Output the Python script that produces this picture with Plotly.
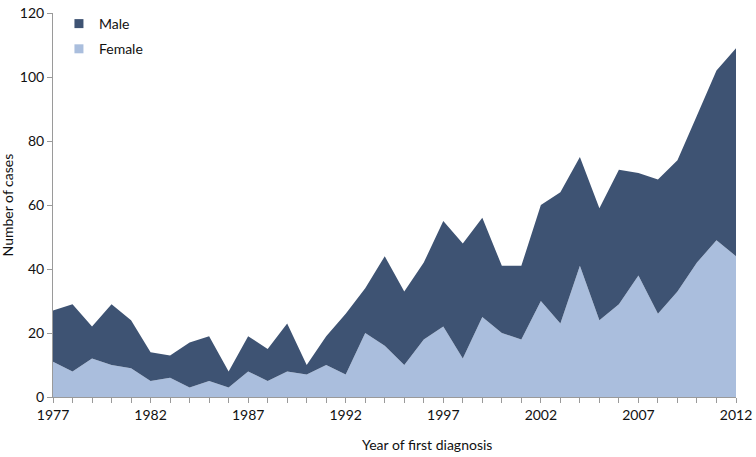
import plotly.graph_objects as go

years = list(range(1977, 2013))
total = [27, 29, 22, 29, 24, 14, 13, 17, 19, 8, 19, 15, 23, 10, 19, 26, 34, 44, 33, 42,
         55, 48, 56, 41, 41, 60, 64, 75, 59, 71, 70, 68, 74, 88, 102, 109]
female = [11, 8, 12, 10, 9, 5, 6, 3, 5, 3, 8, 5, 8, 7, 10, 7, 20, 16, 10, 18,
          22, 12, 25, 20, 18, 30, 23, 41, 24, 29, 38, 26, 33, 42, 49, 44]
male = [t - f for t, f in zip(total, female)]

x_ticks = [1977, 1982, 1987, 1992, 1997, 2002, 2007, 2012]
y_ticks = [0, 20, 40, 60, 80, 100, 120]

DARK = "rgb(62,83,115)"
LIGHT = "rgb(170,190,221)"
FONT = "Lato"
AX = "#9a9a9a"

fig = go.Figure()
fig.add_trace(go.Scatter(x=years, y=female, stackgroup="a", mode="none",
                         fillcolor=LIGHT, name="Female", showlegend=False))
fig.add_trace(go.Scatter(x=years, y=male, stackgroup="a", mode="none",
                         fillcolor=DARK, name="Male", showlegend=False))
# legend entries
fig.add_trace(go.Scatter(x=[None], y=[None], mode="markers", name="Male", legendgroup="m",
                         marker=dict(symbol="square", size=9, color=DARK)))
fig.add_trace(go.Scatter(x=[None], y=[None], mode="markers", name="Female", legendgroup="f",
                         marker=dict(symbol="square", size=9, color=LIGHT)))

fig.update_layout(
    width=756, height=457,
    margin=dict(l=53, r=14, t=4, b=60),
    plot_bgcolor="white", paper_bgcolor="white",
    font=dict(family=FONT, size=14, color="#111"),
    legend=dict(x=6 / 689, y=1.013, xanchor="left", yanchor="top", traceorder="grouped",
                bgcolor="rgba(0,0,0,0)", font=dict(size=14), tracegroupgap=4),
    xaxis=dict(range=[1977, 2012], tickvals=x_ticks, ticktext=[str(v) for v in x_ticks],
               showgrid=False, zeroline=False, showline=True, linecolor=AX,
               ticks="outside", ticklen=5, tickcolor=AX, ticklabeloverflow="allow",
               minor=dict(dtick=1, tick0=1977, ticks="outside", ticklen=5, tickcolor=AX),
               tickfont=dict(size=14)),
    yaxis=dict(range=[0, 120], tickvals=y_ticks, showgrid=False, zeroline=False,
               showline=True, linecolor=AX, ticks="outside", ticklen=5,
               ticklabeloverflow="allow",
               tickcolor=AX, tickfont=dict(size=14)),
    annotations=[
        dict(text="Year of first diagnosis", xref="paper", yref="paper",
             x=(430 - 53) / 689, y=-49 / 393, xanchor="center", yanchor="middle",
             showarrow=False, font=dict(size=14)),
        dict(text="Number of cases", xref="paper", yref="paper",
             x=-46 / 689, y=0.5, xanchor="center", yanchor="middle", textangle=-90,
             showarrow=False, font=dict(size=14)),
    ],
)

fig.write_html("out.html", config={"displayModeBar": False},
               post_script="document.body.style.margin='0';document.body.style.overflow='hidden';")
